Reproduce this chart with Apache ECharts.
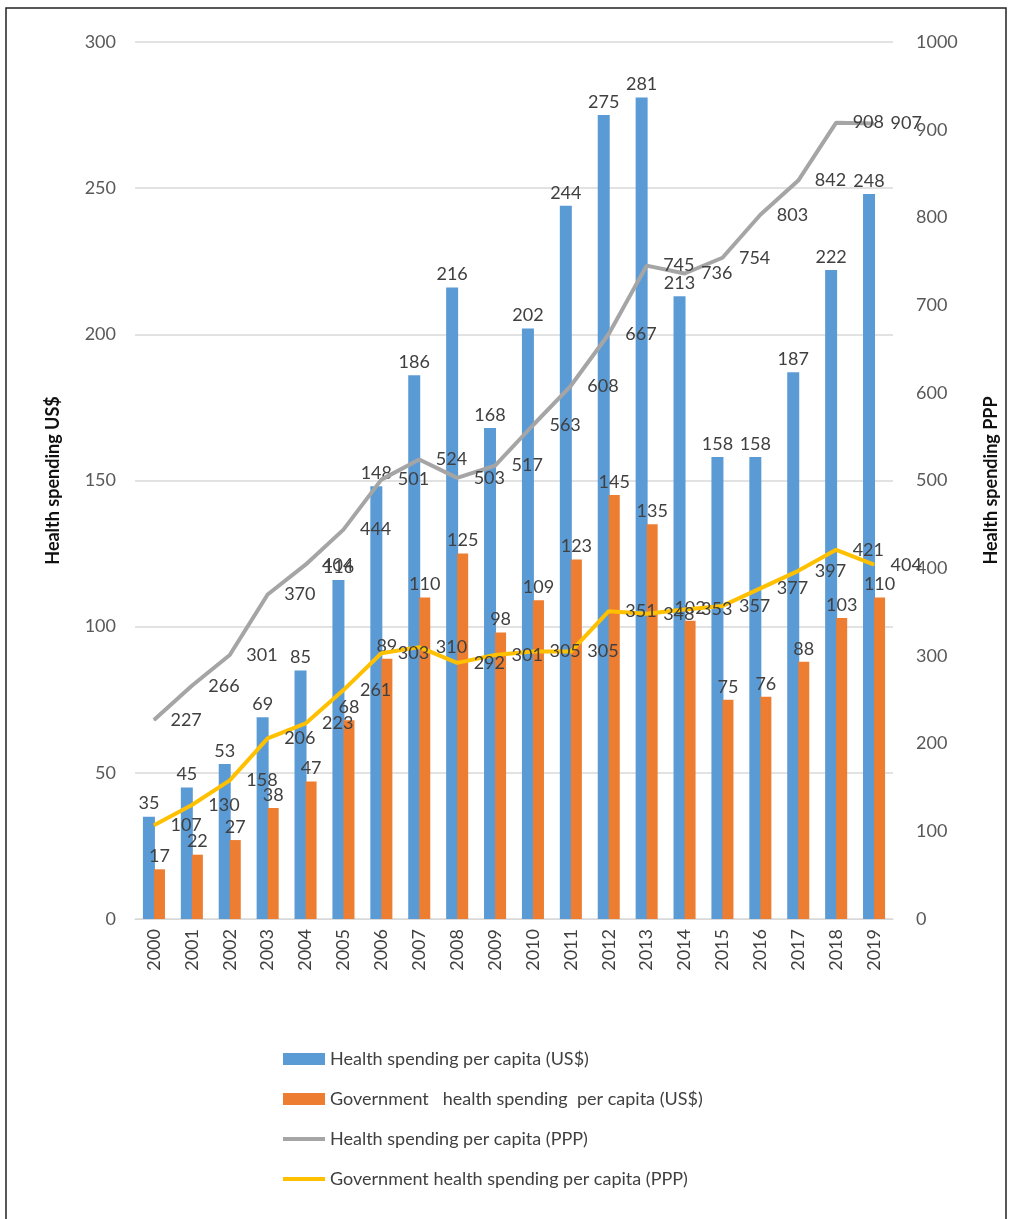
<!DOCTYPE html>
<html>
<head>
<meta charset="utf-8">
<script src="https://cdn.jsdelivr.net/npm/echarts@6/dist/echarts.min.js"></script>
<style>
  html, body { margin: 0; padding: 0; background: #fff; }
  #chart { width: 1012px; height: 1219px; }
</style>
</head>
<body>
<div id="chart"></div>
<script>
var years = ['2000','2001','2002','2003','2004','2005','2006','2007','2008','2009',
             '2010','2011','2012','2013','2014','2015','2016','2017','2018','2019'];
var healthUsd = [35,45,53,69,85,116,148,186,216,168,202,244,275,281,213,158,158,187,222,248];
var govUsd = [17,22,27,38,47,68,89,110,125,98,109,123,145,135,102,75,76,88,103,110];
var healthPpp = [227,266,301,370,404,444,501,524,503,517,563,608,667,745,736,754,803,842,908,907];
var govPpp = [107,130,158,206,223,261,303,310,292,301,305,305,351,348,353,357,377,397,421,404];

var names = [
  'Health spending per capita (US$)',
  'Government   health spending  per capita (US$)',
  'Health spending per capita (PPP)',
  'Government health spending per capita (PPP)'
];

var font = 'Lato, "Open Sans", sans-serif';
var lineIcon = 'path://M0,0 h42 v4 h-42 z';

var myChart = echarts.init(document.getElementById('chart'));

var lblBar = { show: true, position: 'top', distance: 4, color: '#404040', fontSize: 18, fontFamily: font };
var lblLine = { show: true, position: 'right', distance: 16, color: '#404040', fontSize: 18, fontFamily: font };

var option = {
  backgroundColor: '#fff',
  animation: false,
  textStyle: { fontFamily: font },
  graphic: [{
    type: 'rect',
    shape: { x: 6, y: 8, width: 1000, height: 1215 },
    style: { fill: 'none', stroke: '#222', lineWidth: 1.5 },
    silent: true
  }],
  grid: { left: 135, right: 119, top: 42, bottom: 300 },
  legend: {
    orient: 'vertical',
    left: 278,
    top: 1045,
    itemGap: 22,
    itemWidth: 42,
    itemHeight: 12,
    textStyle: { color: '#404040', fontSize: 18, fontFamily: font },
    data: [
      { name: names[0], icon: 'rect' },
      { name: names[1], icon: 'rect' },
      { name: names[2], icon: lineIcon },
      { name: names[3], icon: lineIcon }
    ]
  },
  xAxis: {
    type: 'category',
    data: years,
    axisTick: { show: false },
    axisLine: { lineStyle: { color: '#d9d9d9', width: 1 } },
    axisLabel: { rotate: 90, color: '#404040', fontSize: 18, margin: 10, fontFamily: font }
  },
  yAxis: [{
    type: 'value',
    min: 0, max: 300, interval: 50,
    name: 'Health spending US$',
    nameLocation: 'middle',
    nameRotate: 90,
    nameGap: 73,
    nameTextStyle: { fontWeight: 'bold', fontSize: 18, color: '#111', fontFamily: font },
    axisLabel: { color: '#595959', fontSize: 18, margin: 19, fontFamily: font },
    splitLine: { lineStyle: { color: '#d9d9d9', width: 1.5 } },
    axisLine: { show: false },
    axisTick: { show: false }
  }, {
    type: 'value',
    min: 0, max: 1000, interval: 100,
    name: 'Health spending PPP',
    nameLocation: 'middle',
    nameRotate: 90,
    nameGap: 89,
    nameTextStyle: { fontWeight: 'bold', fontSize: 18, color: '#111', fontFamily: font },
    axisLabel: {
      color: '#595959', fontSize: 18, margin: 23, fontFamily: font,
      formatter: function (v) { return String(v); }
    },
    splitLine: { show: false },
    axisLine: { show: false },
    axisTick: { show: false }
  }],
  series: [{
    name: names[0],
    type: 'bar',
    data: healthUsd,
    barWidth: 12,
    barGap: '-8%',
    itemStyle: { color: '#5b9bd5' },
    label: lblBar
  }, {
    name: names[1],
    type: 'bar',
    data: govUsd,
    barWidth: 11,
    itemStyle: { color: '#ed7d31' },
    label: lblBar
  }, {
    name: names[2],
    type: 'line',
    yAxisIndex: 1,
    data: healthPpp,
    symbol: 'circle',
    symbolSize: 1,
    showSymbol: true,
    lineStyle: { color: '#a5a5a5', width: 4 },
    itemStyle: { color: '#a5a5a5' },
    label: lblLine,
    z: 5
  }, {
    name: names[3],
    type: 'line',
    yAxisIndex: 1,
    data: govPpp,
    symbol: 'circle',
    symbolSize: 1,
    showSymbol: true,
    lineStyle: { color: '#ffc000', width: 4 },
    itemStyle: { color: '#ffc000' },
    label: lblLine,
    z: 5
  }]
};
myChart.setOption(option);
</script>
</body>
</html>
